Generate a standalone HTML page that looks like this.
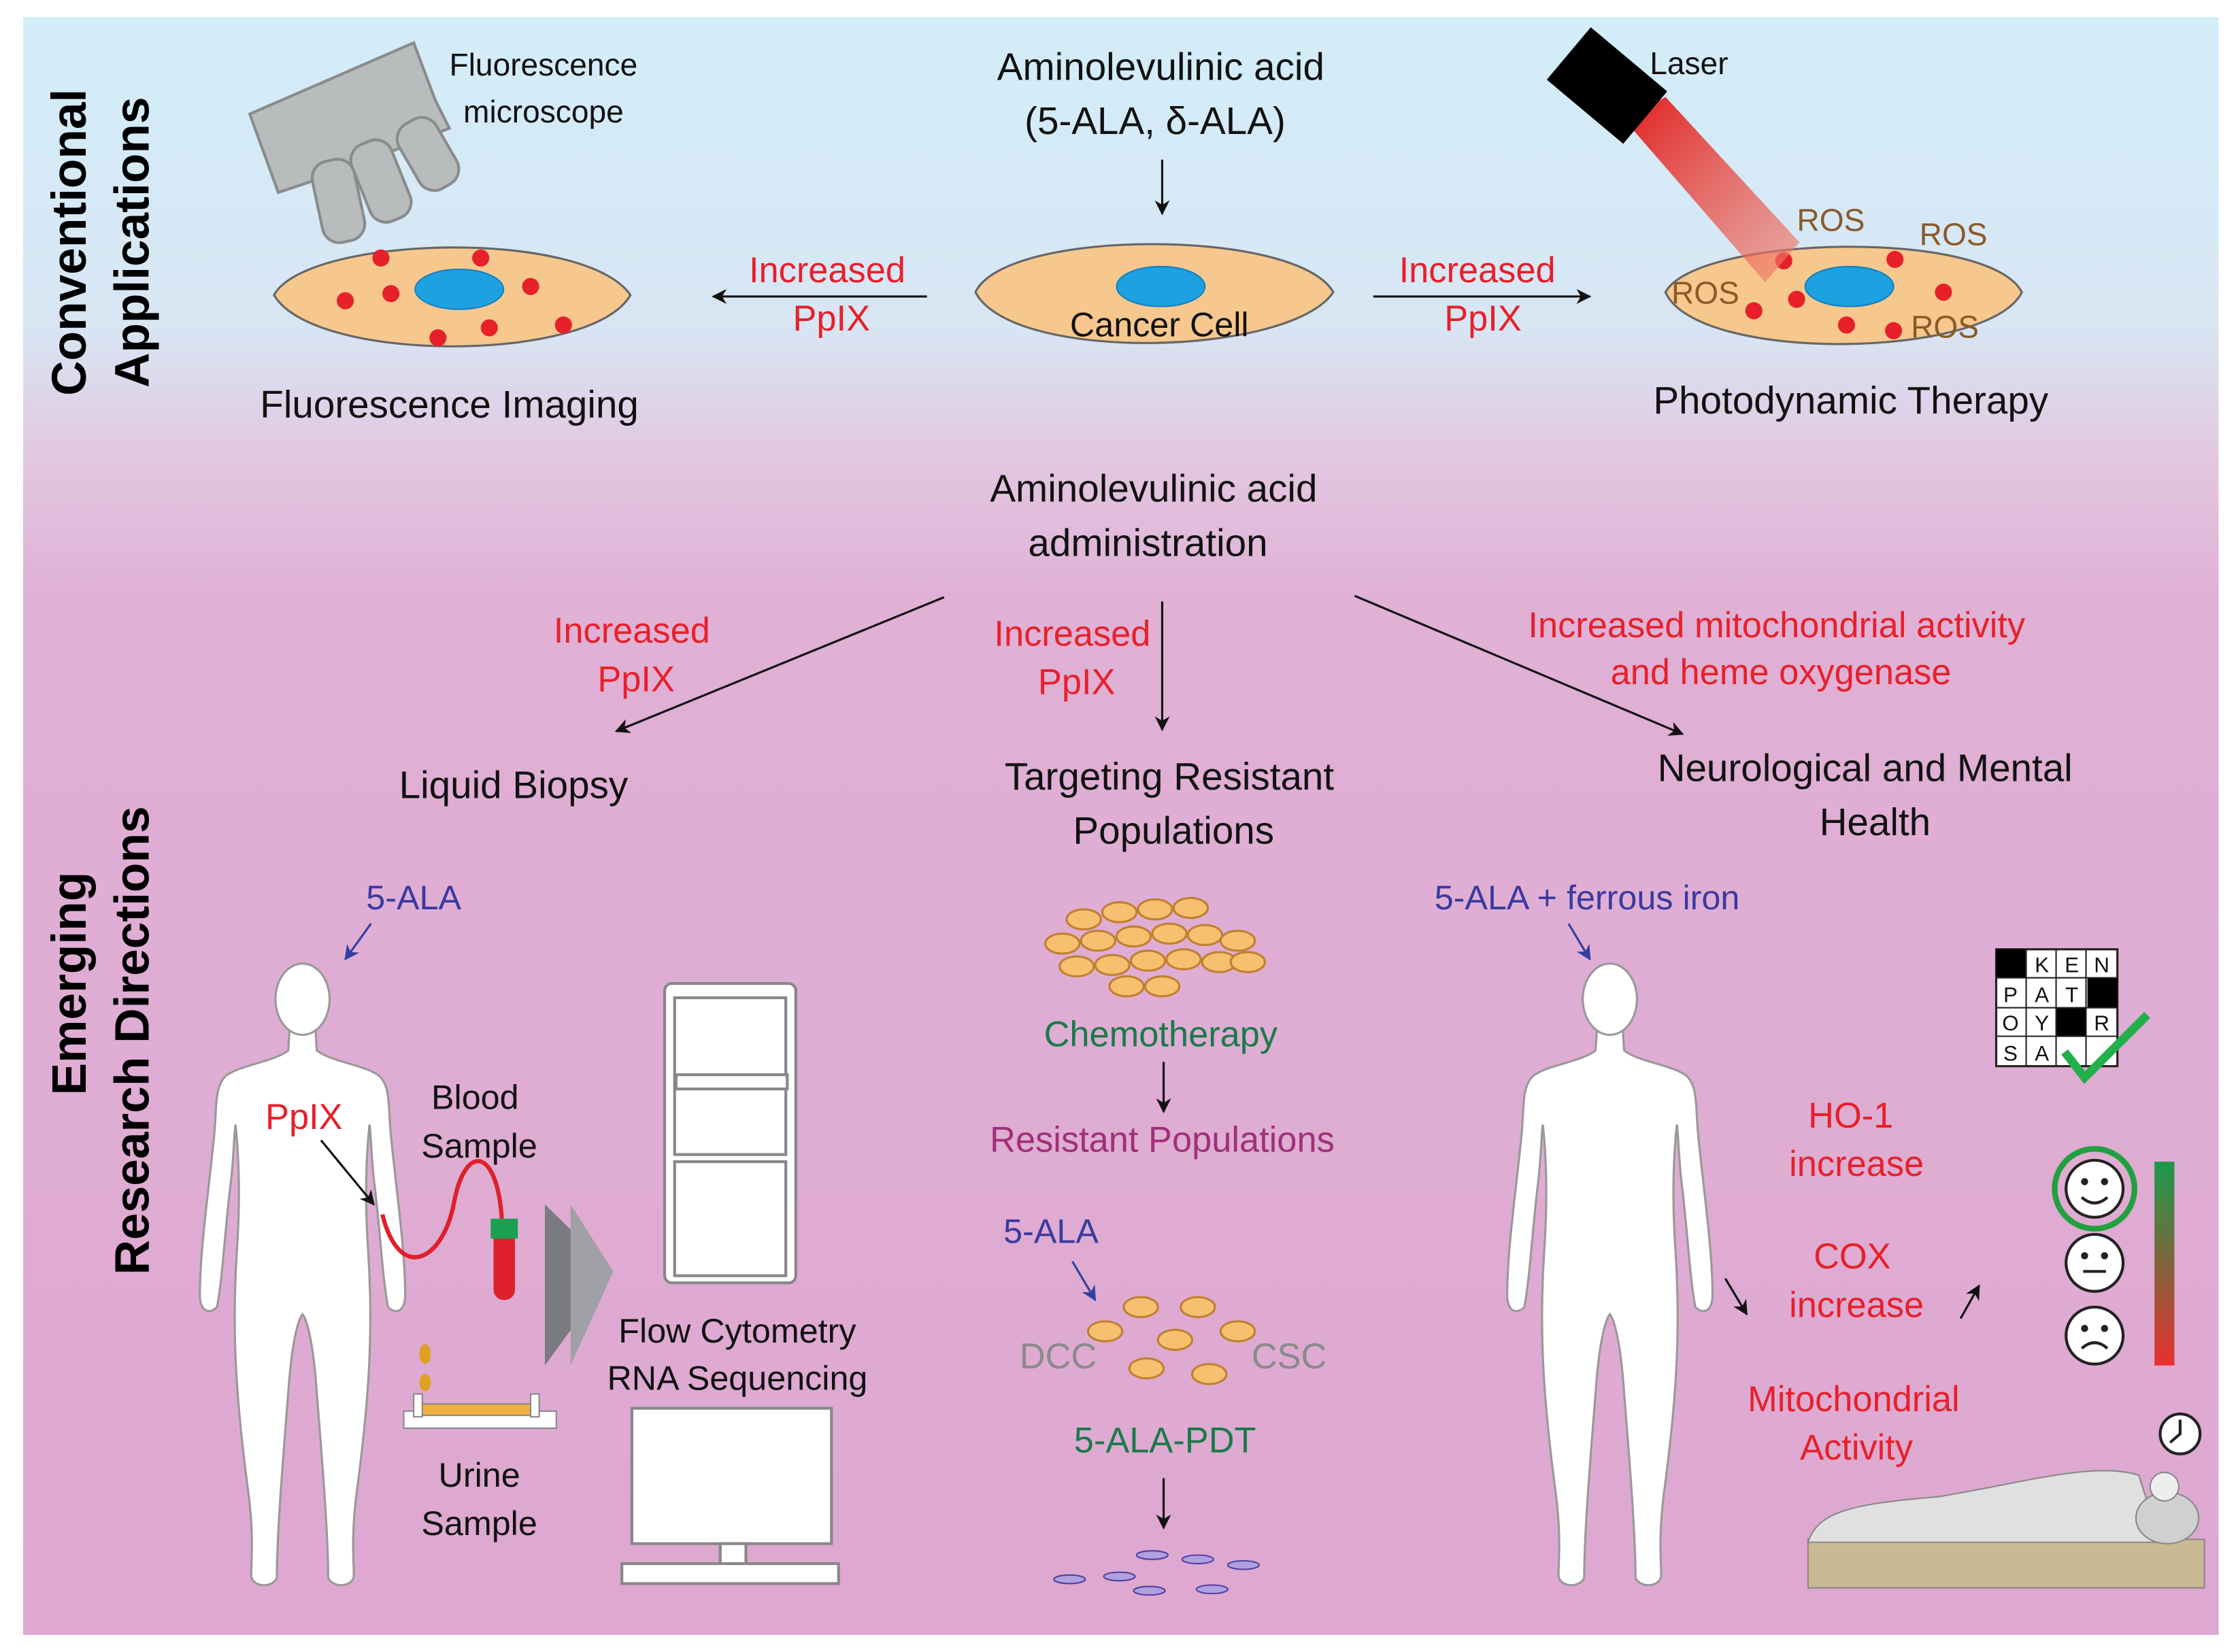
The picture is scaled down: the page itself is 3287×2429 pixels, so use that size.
<!DOCTYPE html>
<html><head><meta charset="utf-8"><style>
html,body{margin:0;padding:0;background:#fff}
svg{display:block}
text{font-family:"Liberation Sans Narrow","Liberation Sans",sans-serif}
</style></head><body>
<svg width="3287" height="2429" viewBox="0 0 1568 1159" xmlns="http://www.w3.org/2000/svg">
<defs>
<linearGradient id="bg" x1="0" y1="0" x2="0" y2="1">
<stop offset="0" stop-color="#d3edf9"/><stop offset="0.19" stop-color="#d8e6f4"/>
<stop offset="0.27" stop-color="#e2c8e2"/><stop offset="0.36" stop-color="#e0b0d5"/><stop offset="1" stop-color="#dea8d0"/>
</linearGradient>
<linearGradient id="laser" x1="0" y1="0" x2="1" y2="1"><stop offset="0" stop-color="#e02020"/><stop offset="1" stop-color="#f08070" stop-opacity="0.6"/></linearGradient>
<linearGradient id="bar" x1="0" y1="0" x2="0" y2="1"><stop offset="0" stop-color="#1a9a4a"/><stop offset="1" stop-color="#e83030"/></linearGradient>
<marker id="ah" viewBox="0 0 10 10" refX="9" refY="5" markerWidth="7" markerHeight="7" orient="auto"><path d="M0,0L10,5L0,10L3,5z" fill="#111"/></marker>
<marker id="ab" viewBox="0 0 10 10" refX="9" refY="5" markerWidth="7" markerHeight="7" orient="auto"><path d="M0,0L10,5L0,10L3,5z" fill="#3040a0"/></marker>
<g id="body" fill="#fff" stroke="#999" stroke-width="1.5">
<path d="M-9,44 L-10,60 C-20,68 -44,70 -54,78 C-62,86 -60,100 -62,120 C-66,160 -72,200 -72,232 C-72,242 -66,246 -60,240 C-56,220 -54,180 -50,150 C-48,130 -48,118 -47,112 C-44,140 -44,170 -46,200 C-50,260 -46,310 -38,370 C-34,400 -36,420 -36,428 C-36,436 -22,438 -18,430 C-18,400 -14,350 -10,300 C-8,270 -4,250 0,245 C4,250 8,270 10,300 C14,350 18,400 18,430 C22,438 36,436 36,428 C36,420 34,400 38,370 C46,310 50,260 46,200 C44,170 44,140 47,112 C48,118 48,130 50,150 C54,180 56,220 60,240 C66,246 72,242 72,232 C72,200 66,160 62,120 C60,100 62,86 54,78 C44,70 20,68 10,60 L9,44 Z"/>
<ellipse cx="0" cy="24" rx="19" ry="25"/>
</g>
</defs>
<rect width="1568" height="1159" fill="#fff"/>
<rect x="16" y="12" width="1540" height="1135" fill="url(#bg)"/>

<!-- bodies -->
<use href="#body" x="212" y="677"/>
<use href="#body" x="1129" y="677"/>

<!-- side labels -->
<text transform="translate(60,170) rotate(-90)" text-anchor="middle" font-size="34" font-weight="bold" style="font-family:'Liberation Sans',sans-serif">Conventional</text>
<text transform="translate(104,170) rotate(-90)" text-anchor="middle" font-size="34" font-weight="bold" style="font-family:'Liberation Sans',sans-serif">Applications</text>
<text transform="translate(60,690) rotate(-90)" text-anchor="middle" font-size="34" font-weight="bold" style="font-family:'Liberation Sans',sans-serif">Emerging</text>
<text transform="translate(104,730) rotate(-90)" text-anchor="middle" font-size="34" font-weight="bold" style="font-family:'Liberation Sans',sans-serif">Research Directions</text>

<g font-size="27" fill="#111" text-anchor="middle">
<text x="814" y="56">Aminolevulinic acid</text>
<text x="810" y="94">(5-ALA, δ-ALA)</text>
<text x="315" y="293">Fluorescence Imaging</text>
<text x="1298" y="290">Photodynamic Therapy</text>
<text x="809" y="352">Aminolevulinic acid</text>
<text x="805" y="390">administration</text>
<text x="360" y="560">Liquid Biopsy</text>
<text x="820" y="554">Targeting Resistant</text>
<text x="823" y="592">Populations</text>
<text x="1308" y="548">Neurological and Mental</text>
<text x="1315" y="586">Health</text>
</g>
<g font-size="22" fill="#111" text-anchor="middle">
<text x="381" y="53">Fluorescence</text><text x="381" y="86">microscope</text>
<text x="1157" y="52" text-anchor="start">Laser</text>
</g>
<line x1="815" y1="112" x2="815" y2="150" stroke="#111" stroke-width="1.5" marker-end="url(#ah)"/>
<!-- microscope -->
<g fill="#b9bcbc" stroke="#8a8c8c" stroke-width="2">
<path d="M175,80 L290,30 L305,70 L315,90 L240,120 L195,135z"/>
<rect x="222" y="112" width="30" height="58" rx="12" transform="rotate(-12 237 140)"/>
<rect x="252" y="98" width="30" height="58" rx="12" transform="rotate(-22 267 127)"/>
<rect x="285" y="82" width="30" height="52" rx="12" transform="rotate(-30 300 108)"/>
</g>
<!-- cells -->
<g stroke="#666" stroke-width="1.5" fill="#f6c88e">
<path d="M192,207 C215,165 410,160 442,207 C415,255 220,255 192,207z"/>
<path d="M684,205 C705,160 910,160 935,205 C905,250 710,255 684,205z"/>
<path d="M1168,205 C1190,165 1395,160 1418,205 C1395,252 1190,255 1168,205z"/>
</g>
<g fill="#1da1e0" stroke="#1680c0"><ellipse cx="322" cy="203" rx="31" ry="14"/><ellipse cx="814" cy="201" rx="31" ry="14"/><ellipse cx="1297" cy="201" rx="31" ry="14"/></g>
<g fill="#e8202a">
<circle cx="267" cy="181" r="6"/><circle cx="337" cy="181" r="6"/><circle cx="242" cy="211" r="6"/><circle cx="274" cy="206" r="6"/><circle cx="372" cy="201" r="6"/><circle cx="307" cy="237" r="6"/><circle cx="343" cy="230" r="6"/><circle cx="395" cy="228" r="6"/>
<circle cx="1251" cy="183" r="6"/><circle cx="1329" cy="182" r="6"/><circle cx="1230" cy="218" r="6"/><circle cx="1260" cy="210" r="6"/><circle cx="1363" cy="205" r="6"/><circle cx="1295" cy="228" r="6"/><circle cx="1328" cy="232" r="6"/>
</g>
<text x="813" y="236" font-size="24" text-anchor="middle" fill="#111">Cancer Cell</text>
<!-- laser -->
<path d="M1140,85 L1168,68 L1262,170 L1238,198z" fill="url(#laser)"/>
<rect x="1092" y="36" width="70" height="48" fill="#000" transform="rotate(40 1127 60)"/>
<g font-size="22" fill="#8a5a2a" text-anchor="middle"><text x="1284" y="162">ROS</text><text x="1370" y="172">ROS</text><text x="1196" y="213">ROS</text><text x="1364" y="237">ROS</text></g>
<g font-size="25" fill="#e8202a" text-anchor="middle">
<text x="580" y="198">Increased</text><text x="583" y="232">PpIX</text>
<text x="1036" y="198">Increased</text><text x="1040" y="232">PpIX</text>
<text x="443" y="451">Increased</text><text x="446" y="485">PpIX</text>
<text x="752" y="453">Increased</text><text x="755" y="487">PpIX</text>
<text x="1246" y="447">Increased mitochondrial activity</text><text x="1249" y="480">and heme oxygenase</text>
<text x="213" y="792">PpIX</text>
<text x="1298" y="791">HO-1</text><text x="1302" y="825">increase</text>
<text x="1299" y="890">COX</text><text x="1302" y="924">increase</text>
<text x="1300" y="990">Mitochondrial</text><text x="1302" y="1024">Activity</text>
</g>
<g stroke="#111" stroke-width="1.5">
<line x1="650" y1="208" x2="500" y2="208" marker-end="url(#ah)"/>
<line x1="963" y1="208" x2="1115" y2="208" marker-end="url(#ah)"/>
<line x1="662" y1="419" x2="432" y2="513" marker-end="url(#ah)"/>
<line x1="815" y1="422" x2="815" y2="512" marker-end="url(#ah)"/>
<line x1="950" y1="418" x2="1180" y2="515" marker-end="url(#ah)"/>
<line x1="816" y1="745" x2="816" y2="780" marker-end="url(#ah)"/>
<line x1="816" y1="1037" x2="816" y2="1072" marker-end="url(#ah)"/>
<line x1="225" y1="800" x2="262" y2="845" marker-end="url(#ah)"/>
<line x1="1210" y1="897" x2="1225" y2="922" marker-end="url(#ah)"/>
<line x1="1375" y1="925" x2="1388" y2="902" marker-end="url(#ah)"/>
</g>
<g font-size="24" fill="#3a3aa0" text-anchor="middle">
<text x="290" y="638">5-ALA</text><text x="1113" y="638">5-ALA + ferrous iron</text><text x="737" y="872">5-ALA</text>
</g>
<g stroke="#3040a0" stroke-width="1.5">
<line x1="260" y1="648" x2="242" y2="673" marker-end="url(#ab)"/>
<line x1="1100" y1="648" x2="1115" y2="673" marker-end="url(#ab)"/>
<line x1="752" y1="885" x2="768" y2="912" marker-end="url(#ab)"/>
</g>
<!-- blood sample -->
<path d="M268,852 C280,900 310,885 318,845 C326,800 350,805 352,860" fill="none" stroke="#e0202a" stroke-width="3"/>
<rect x="346" y="858" width="15" height="54" rx="7" fill="#e0202a"/>
<rect x="344" y="855" width="19" height="14" fill="#1aa050"/>
<g font-size="24" fill="#111" text-anchor="middle"><text x="333" y="778">Blood</text><text x="336" y="812">Sample</text><text x="336" y="1043">Urine</text><text x="336" y="1077">Sample</text>
<text x="517" y="942">Flow Cytometry</text><text x="517" y="975">RNA Sequencing</text></g>
<path d="M382,845 L430,892 L382,958z" fill="#7a7a80"/><path d="M400,845 L430,892 L400,958z" fill="#a0a0a6"/>
<ellipse cx="298" cy="950" rx="4" ry="7" fill="#e0a020"/><ellipse cx="298" cy="970" rx="4" ry="6" fill="#e0a020"/>
<rect x="283" y="990" width="107" height="12" fill="#fff" stroke="#888"/><rect x="295" y="985" width="83" height="8" fill="#f2b040" stroke="#888"/>
<rect x="290" y="978" width="6" height="16" fill="#fff" stroke="#888"/><rect x="372" y="978" width="6" height="16" fill="#fff" stroke="#888"/>
<!-- flow cytometer -->
<g fill="#fff" stroke="#888" stroke-width="2">
<rect x="466" y="690" width="92" height="210" rx="5"/><rect x="473" y="700" width="78" height="110"/><rect x="473" y="815" width="78" height="80"/>
<rect x="474" y="754" width="78" height="10"/>
<rect x="443" y="988" width="140" height="95"/><rect x="505" y="1083" width="18" height="14"/><rect x="436" y="1097" width="152" height="14"/>
</g>
<!-- cell clusters -->
<g fill="#f6c070" stroke="#c08030" stroke-width="1.5">
<ellipse cx="760" cy="645" rx="12" ry="7"/><ellipse cx="785" cy="640" rx="12" ry="7"/><ellipse cx="810" cy="638" rx="12" ry="7"/><ellipse cx="835" cy="637" rx="12" ry="7"/>
<ellipse cx="745" cy="662" rx="12" ry="7"/><ellipse cx="770" cy="660" rx="12" ry="7"/><ellipse cx="795" cy="657" rx="12" ry="7"/><ellipse cx="820" cy="655" rx="12" ry="7"/><ellipse cx="845" cy="656" rx="12" ry="7"/><ellipse cx="868" cy="660" rx="12" ry="7"/>
<ellipse cx="755" cy="678" rx="12" ry="7"/><ellipse cx="780" cy="677" rx="12" ry="7"/><ellipse cx="805" cy="674" rx="12" ry="7"/><ellipse cx="830" cy="673" rx="12" ry="7"/><ellipse cx="855" cy="675" rx="12" ry="7"/><ellipse cx="875" cy="675" rx="12" ry="7"/>
<ellipse cx="790" cy="692" rx="12" ry="7"/><ellipse cx="815" cy="692" rx="12" ry="7"/>
<ellipse cx="800" cy="917" rx="12" ry="7"/><ellipse cx="840" cy="917" rx="12" ry="7"/><ellipse cx="775" cy="934" rx="12" ry="7"/><ellipse cx="824" cy="940" rx="12" ry="7"/><ellipse cx="868" cy="934" rx="12" ry="7"/><ellipse cx="804" cy="960" rx="12" ry="7"/><ellipse cx="848" cy="964" rx="12" ry="7"/>
</g>
<g fill="#b0a0e0" stroke="#5040a0">
<ellipse cx="750" cy="1108" rx="11" ry="3"/><ellipse cx="785" cy="1106" rx="11" ry="3"/><ellipse cx="808" cy="1091" rx="11" ry="3"/><ellipse cx="840" cy="1094" rx="11" ry="3"/><ellipse cx="872" cy="1098" rx="11" ry="3"/><ellipse cx="806" cy="1116" rx="11" ry="3"/><ellipse cx="850" cy="1115" rx="11" ry="3"/>
</g>
<g font-size="25" text-anchor="middle">
<text x="814" y="734" fill="#1a7a4a">Chemotherapy</text>
<text x="815" y="808" fill="#a0307a">Resistant Populations</text>
<text x="817" y="1019" fill="#1a7a4a">5-ALA-PDT</text>
<text x="742" y="960" fill="#8a8a8a">DCC</text><text x="904" y="960" fill="#8a8a8a">CSC</text>
</g>
<!-- crossword -->
<rect x="1400" y="666" width="85" height="82" stroke="#222" stroke-width="1.5" fill="#fff"/>
<g fill="#000"><rect x="1400" y="666" width="21" height="20"/><rect x="1464" y="686" width="21" height="21"/><rect x="1442" y="707" width="21" height="20"/></g>
<g stroke="#222" stroke-width="1"><line x1="1421" y1="666" x2="1421" y2="748"/><line x1="1442" y1="666" x2="1442" y2="748"/><line x1="1463" y1="666" x2="1463" y2="748"/><line x1="1400" y1="686" x2="1485" y2="686"/><line x1="1400" y1="707" x2="1485" y2="707"/><line x1="1400" y1="727" x2="1485" y2="727"/></g>
<g font-size="15" text-anchor="middle" fill="#111" style="font-family:'Liberation Sans',sans-serif">
<text x="1432" y="682">K</text><text x="1453" y="682">E</text><text x="1474" y="682">N</text>
<text x="1410" y="703">P</text><text x="1432" y="703">A</text><text x="1453" y="703">T</text>
<text x="1410" y="723">O</text><text x="1432" y="723">Y</text><text x="1474" y="723">R</text>
<text x="1410" y="744">S</text><text x="1432" y="744">A</text></g>
<path d="M1448,738 L1462,756 L1506,712" fill="none" stroke="#22b04a" stroke-width="6"/>
<!-- faces -->
<g fill="#fff" stroke="#222" stroke-width="2"><circle cx="1469" cy="834" r="20"/><circle cx="1469" cy="886" r="20"/><circle cx="1469" cy="937" r="20"/></g>
<circle cx="1469" cy="834" r="28" fill="none" stroke="#22a040" stroke-width="4"/>
<g fill="#222"><circle cx="1462" cy="829" r="2.5"/><circle cx="1476" cy="829" r="2.5"/><circle cx="1462" cy="881" r="2.5"/><circle cx="1476" cy="881" r="2.5"/><circle cx="1462" cy="932" r="2.5"/><circle cx="1476" cy="932" r="2.5"/></g>
<g fill="none" stroke="#222" stroke-width="2"><path d="M1460,840 Q1469,848 1478,840"/><line x1="1461" y1="892" x2="1477" y2="892"/><path d="M1460,946 Q1469,938 1478,946"/></g>
<rect x="1511" y="815" width="14" height="143" fill="url(#bar)"/>
<!-- bed -->
<rect x="1268" y="1080" width="278" height="34" fill="#c9b995" stroke="#888"/>
<path d="M1268,1082 C1275,1060 1300,1055 1360,1050 C1420,1040 1470,1025 1500,1035 L1515,1082z" fill="#e0e0e0" stroke="#888"/>
<ellipse cx="1520" cy="1065" rx="22" ry="18" fill="#d0d0d0" stroke="#888"/>
<circle cx="1518" cy="1043" r="10" fill="#eee" stroke="#888"/>
<circle cx="1529" cy="1006" r="14" fill="#fff" stroke="#222" stroke-width="2"/>
<path d="M1529,996 L1529,1006 L1522,1012" fill="none" stroke="#222" stroke-width="2"/>
</svg>
</body></html>
